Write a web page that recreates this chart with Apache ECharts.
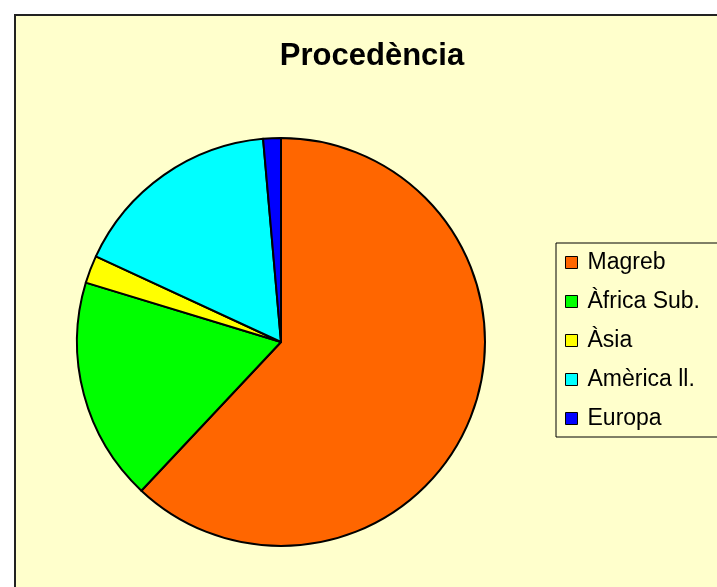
<!DOCTYPE html>
<html>
<head>
<meta charset="utf-8">
<script src="https://cdn.jsdelivr.net/npm/echarts@6/dist/echarts.min.js"></script>
<style>
    html, body { margin: 0; padding: 0; background: #fff; overflow: hidden; width: 717px; height: 587px; }
    #chart {
        position: absolute; left: 14px; top: 14px;
        width: 720px; height: 590px;
        border-left: 2px solid #222; border-top: 2px solid #222;
        background: #FFFFCC;
    }
</style>
</head>
<body>
<div id="chart"></div>
<script>
    // dades
    var categories = ['Magreb', 'Àfrica Sub.', 'Àsia', 'Amèrica ll.', 'Europa'];
    var values = [62.0, 17.7, 2.2, 16.7, 1.4];
    var colors = ['#FF6600', '#00FF00', '#FFFF00', '#00FFFF', '#0000FF'];

    var pieChart = echarts.init(document.getElementById('chart'));

    var seriesData = [];
    for (var i in categories) {
        seriesData.push({
            name: categories[i],
            value: values[i],
            itemStyle: { color: colors[i] }
        });
    }

    var option = {
        backgroundColor: '#FFFFCC',
        animation: false,
        title: {
            text: 'Procedència',
            left: 351,
            top: 20,
            textAlign: 'center',
            textStyle: {
                fontFamily: 'Liberation Sans, Arial, sans-serif',
                fontSize: 31,
                fontWeight: 'bold',
                color: '#000'
            }
        },
        legend: {
            orient: 'vertical',
            left: 540,
            top: 227,
            padding: [8, 40, 7, 9],
            itemGap: 16,
            itemWidth: 12,
            itemHeight: 12,
            icon: 'rect',
            borderColor: '#000',
            borderWidth: 1,
            backgroundColor: '#FFFFCC',
            itemStyle: {
                borderColor: '#000',
                borderWidth: 1
            },
            textStyle: {
                fontFamily: 'Liberation Sans, Arial, sans-serif',
                fontSize: 23,
                lineHeight: 23,
                color: '#000',
                padding: [0, 0, 0, 5]
            },
            data: categories
        },
        series: [{
            type: 'pie',
            center: [265, 326],
            radius: 204,
            startAngle: 90,
            clockwise: true,
            label: { show: false },
            labelLine: { show: false },
            emphasis: { disabled: true },
            itemStyle: {
                borderColor: '#000',
                borderWidth: 2
            },
            data: seriesData
        }]
    };

    pieChart.setOption(option);
</script>
</body>
</html>
